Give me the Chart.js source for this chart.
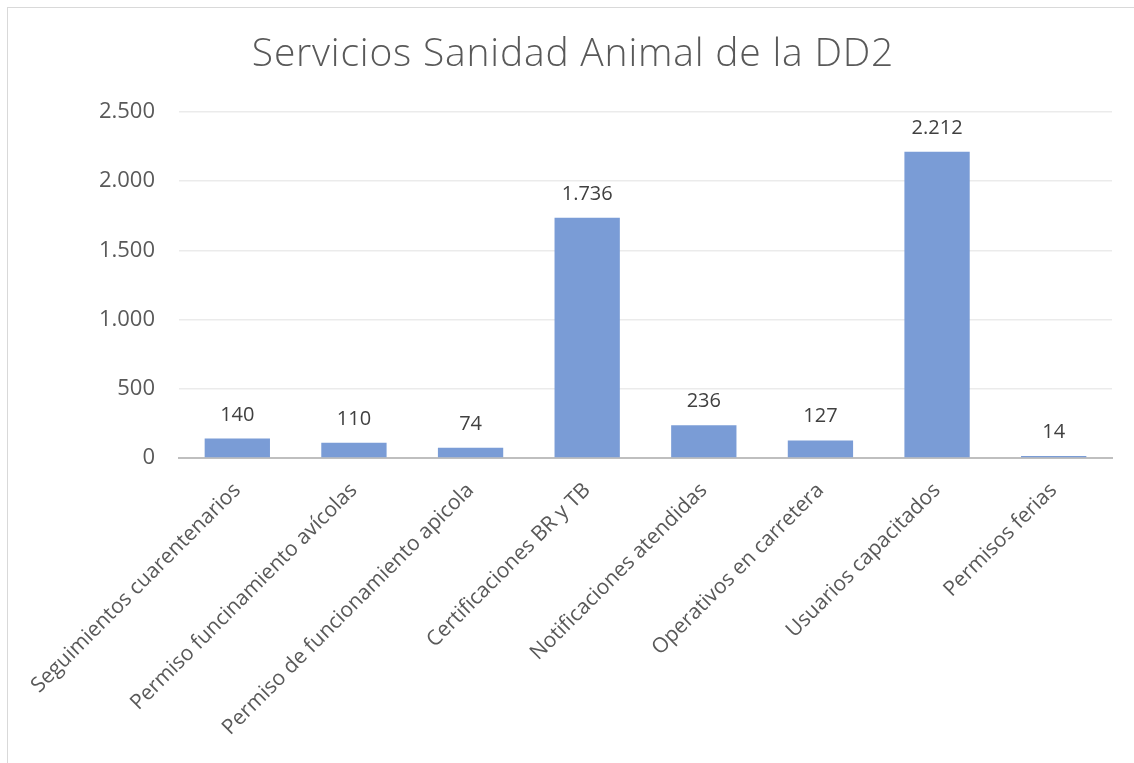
<!DOCTYPE html>
<html>
<head>
<meta charset="utf-8">
<script src="https://cdn.jsdelivr.net/npm/chart.js@4.4.0/dist/chart.umd.min.js"></script>
<style>
  body { margin: 0; background: #fff; }
  #frame {
    position: absolute; left: 7px; top: 7px; width: 1140px; height: 770px;
    border-left: 1.5px solid #d9d9d9; border-top: 1.5px solid #d9d9d9;
  }
  #wrap { position: absolute; left: 0; top: 0; width: 1134px; height: 763px; }
</style>
</head>
<body>
<div id="frame"></div>
<div id="wrap"><canvas id="chart"></canvas></div>
<script>
// chart data
const categories = [
  'Seguimientos cuarentenarios',
  'Permiso funcinamiento avícolas',
  'Permiso de funcionamiento apicola',
  'Certificaciones BR y TB',
  'Notificaciones atendidas',
  'Operativos en carretera',
  'Usuarios capacitados',
  'Permisos ferias'
];
const values = [140, 110, 74, 1736, 236, 127, 2212, 14];
const yTicks = [0, 500, 1000, 1500, 2000, 2500];
const titleText = 'Servicios Sanidad Animal de la DD2';

// 1736 -> "1.736"
function fmt(n) {
  return String(n).replace(/\B(?=(\d{3})+(?!\d))/g, '.');
}

// value labels above each bar
const barLabels = {
  id: 'barLabels',
  afterDatasetsDraw(chart) {
    const ctx = chart.ctx;
    const meta = chart.getDatasetMeta(0);
    ctx.save();
    ctx.font = '20px "Open Sans"';
    ctx.fillStyle = '#404040';
    ctx.textAlign = 'center';
    ctx.textBaseline = 'alphabetic';
    meta.data.forEach((bar, i) => {
      ctx.fillText(fmt(values[i]), bar.x, bar.y - 18);
    });
    ctx.restore();
  }
};

// title with a bit of letter spacing, centred like the original
const spacedTitle = {
  id: 'spacedTitle',
  afterDraw(chart) {
    const ctx = chart.ctx;
    ctx.save();
    ctx.font = '300 39px "Open Sans"';
    ctx.letterSpacing = '0.8px';
    ctx.fillStyle = '#595959';
    ctx.textAlign = 'center';
    ctx.textBaseline = 'middle';
    ctx.fillText(titleText, 573, 55);
    ctx.restore();
  }
};

const ctx = document.getElementById('chart').getContext('2d');
new Chart(ctx, {
  type: 'bar',
  data: {
    labels: categories,
    datasets: [{
      data: values,
      backgroundColor: '#7a9cd6',
      borderWidth: 0,
      categoryPercentage: 0.56,
      barPercentage: 1.0
    }]
  },
  options: {
    responsive: true,
    maintainAspectRatio: false,
    animation: false,
    layout: { padding: { left: 0, right: 22, top: 112, bottom: 0 } },
    plugins: {
      legend: { display: false },
      tooltip: { enabled: false },
      title: { display: false }
    },
    scales: {
      x: {
        grid: { display: false, drawTicks: false },
        border: { color: '#bfbfbf', width: 2 },
        ticks: {
          color: '#595959',
          font: { family: '"Open Sans"', size: 21 },
          minRotation: 45,
          maxRotation: 45,
          padding: 20,
          autoSkip: false
        },
        afterFit(scale) { scale.height = 305; }
      },
      y: {
        min: 0,
        max: 2500,
        afterBuildTicks(scale) {
          scale.ticks = yTicks.map(v => ({ value: v }));
        },
        grid: { color: '#ebebeb', lineWidth: 1.5, drawTicks: false },
        border: { display: false },
        ticks: {
          color: '#595959',
          font: { family: '"Open Sans"', size: 22 },
          padding: 24,
          callback: v => fmt(v)
        },
        afterFit(scale) { scale.width = 179; }
      }
    }
  },
  plugins: [barLabels, spacedTitle]
});
</script>
</body>
</html>
